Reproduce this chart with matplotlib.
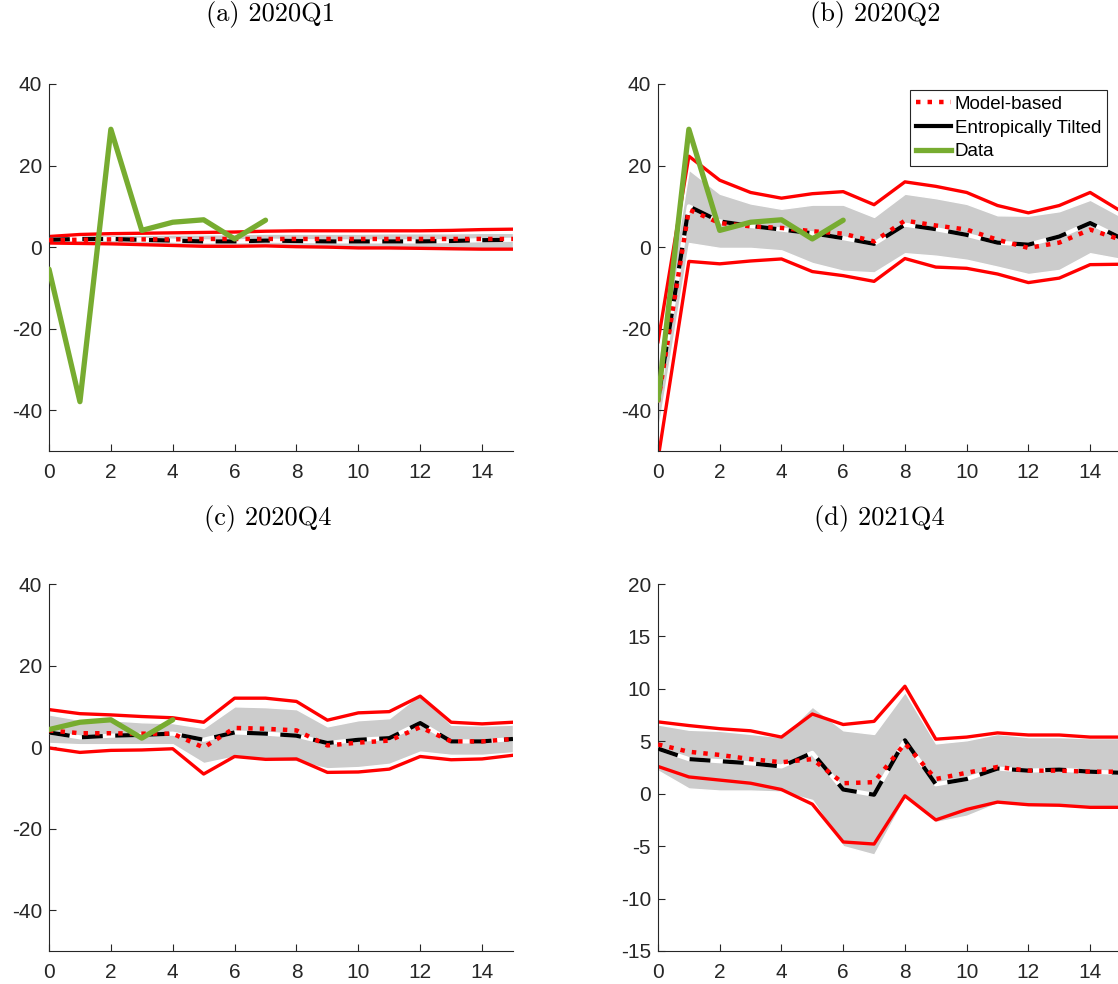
import matplotlib
matplotlib.use('Agg')
import matplotlib.pyplot as plt
from matplotlib.lines import Line2D

plt.rcParams['font.family'] = ['Liberation Sans', 'DejaVu Sans']
plt.rcParams['axes.unicode_minus'] = False

h = list(range(16))

# (a) 2020Q1
a_up = [2.6, 3.1, 3.3, 3.4, 3.5, 3.6, 3.7, 3.9, 4.0, 4.0, 4.0, 4.0, 4.0, 4.1, 4.3, 4.4]
a_lo = [1.0, 0.9, 0.8, 0.6, 0.4, 0.2, 0.2, 0.3, 0.1, 0.0, -0.2, -0.2, -0.3, -0.4, -0.5, -0.5]
a_gup = [2.4, 2.8, 3.0, 3.0, 3.1, 3.1, 3.2, 3.3, 3.3, 3.3, 3.3, 3.4, 3.4, 3.4, 3.5, 3.5]
a_glo = [1.1, 1.0, 0.9, 0.6, 0.3, 0.1, 0.0, 0.0, -0.2, -0.4, -0.5, -0.6, -0.7, -0.8, -0.8, -0.8]
a_model = [1.7, 1.8, 1.9, 1.9, 1.9, 2.0, 2.0, 2.0, 2.0, 2.0, 2.0, 2.0, 2.0, 2.0, 2.0, 2.0]
a_tilt = [1.8, 2.0, 2.0, 1.8, 1.6, 1.4, 1.4, 1.6, 1.5, 1.4, 1.4, 1.4, 1.4, 1.5, 1.7, 1.8]
a_data = [-5.4, -37.9, 28.9, 4.1, 6.1, 6.7, 2.0, 6.6]

# (b) 2020Q2
b_up = [-23.2, 22.3, 16.4, 13.4, 12.0, 13.1, 13.6, 10.4, 16.0, 14.9, 13.4, 10.2, 8.4, 10.2, 13.4, 8.8]
b_lo = [-52.0, -3.5, -4.1, -3.4, -2.9, -6.0, -7.0, -8.4, -2.8, -4.9, -5.2, -6.6, -8.7, -7.6, -4.3, -4.2]
b_gup = [-28.0, 19.0, 13.1, 10.7, 9.4, 10.4, 10.4, 7.4, 13.1, 12.0, 10.6, 7.8, 7.7, 8.8, 11.6, 7.5]
b_glo = [-45.0, 1.0, -0.2, -0.2, -0.8, -3.9, -5.8, -6.2, -1.5, -2.1, -3.1, -4.8, -6.6, -5.6, -1.5, -2.9]
b_model = [-38.0, 9.2, 5.9, 5.1, 4.7, 3.9, 3.3, 1.4, 6.5, 5.3, 4.3, 1.8, -0.2, 1.1, 4.3, 1.8]
b_tilt = [-37.5, 10.0, 6.3, 5.2, 4.3, 3.4, 2.2, 0.8, 5.5, 4.4, 3.0, 1.1, 0.6, 2.6, 5.9, 2.2]
b_data = [-37.5, 28.9, 4.1, 6.1, 6.7, 2.0, 6.6]

# (c) 2020Q4
c_up = [9.2, 8.2, 7.9, 7.5, 7.2, 6.1, 12.0, 12.0, 11.2, 6.6, 8.4, 8.7, 12.5, 6.1, 5.7, 6.1]
c_lo = [-0.2, -1.3, -0.8, -0.7, -0.4, -6.6, -2.3, -3.0, -2.9, -6.2, -6.1, -5.4, -2.3, -3.1, -2.9, -2.0]
c_gup = [8.0, 6.7, 6.6, 6.1, 5.9, 4.7, 10.0, 9.8, 9.3, 5.1, 6.6, 7.1, 13.0, 5.5, 5.3, 5.5]
c_glo = [1.0, 0.7, 0.7, 0.7, 0.7, -3.9, -2.3, -3.3, -3.5, -5.2, -4.9, -4.1, -1.1, -1.9, -1.9, -1.3]
c_model = [4.1, 3.4, 3.4, 3.3, 3.3, -0.1, 4.7, 4.5, 4.1, 0.4, 1.1, 1.6, 4.9, 1.4, 1.4, 2.0]
c_tilt = [3.6, 2.4, 2.8, 3.0, 3.3, 1.8, 3.6, 3.3, 2.8, 1.0, 1.8, 2.2, 5.9, 1.4, 1.4, 2.0]
c_data = [4.3, 6.1, 6.7, 2.2, 6.7]

# (d) 2021Q4
d_up = [6.85, 6.5, 6.2, 6.0, 5.4, 7.6, 6.6, 6.9, 10.25, 5.2, 5.4, 5.8, 5.6, 5.6, 5.4, 5.4]
d_lo = [2.6, 1.6, 1.3, 1.0, 0.4, -1.0, -4.6, -4.8, -0.2, -2.5, -1.5, -0.8, -1.05, -1.1, -1.3, -1.3]
d_gup = [6.6, 6.1, 6.0, 5.7, 5.4, 8.3, 6.05, 5.7, 9.7, 4.8, 5.1, 5.7, 5.4, 5.4, 5.3, 5.3]
d_glo = [2.2, 0.5, 0.3, 0.3, 0.2, -0.6, -5.0, -5.8, -0.4, -2.7, -2.1, -0.9, -1.2, -1.2, -1.3, -1.3]
d_model = [4.7, 4.0, 3.7, 3.3, 3.0, 3.3, 1.0, 1.1, 4.8, 1.4, 2.0, 2.55, 2.2, 2.2, 2.1, 2.1]
d_tilt = [4.3, 3.3, 3.1, 2.9, 2.6, 3.9, 0.4, -0.1, 5.1, 0.9, 1.4, 2.4, 2.2, 2.3, 2.1, 2.0]

titles = ['(a) 2020Q1', '(b) 2020Q2', '(c) 2020Q4', '(d) 2021Q4']
legend_labels = ['Model-based', 'Entropically Tilted', 'Data']

W = 1118
H = 984
fig = plt.figure(figsize=(W / 100, H / 100), dpi=100)

ax_color = (0.15, 0.15, 0.15)
green = (0.467, 0.675, 0.188)


def panel(rect, up, lo, gup, glo, model, tilt, data, ylim, yticks):
    ax = fig.add_axes(rect)
    ax.fill_between(h, glo, gup, facecolor=(0.8, 0.8, 0.8), edgecolor='white', linewidth=1, zorder=1)
    ax.plot(h, up, color='red', lw=2.4, solid_joinstyle='round', zorder=2)
    ax.plot(h, lo, color='red', lw=2.4, solid_joinstyle='round', zorder=2)
    ax.plot(h, tilt, color='white', lw=3, zorder=3)
    ax.plot(h, tilt, color='black', lw=3, dashes=(5, 3), dash_capstyle='butt', zorder=4)
    ax.plot(h, model, color='red', lw=3.2, dashes=(1, 1.6), dash_capstyle='butt', zorder=5)
    if data is not None:
        ax.plot(range(len(data)), data, color=green, lw=3.8,
                solid_joinstyle='round', solid_capstyle='round', zorder=6)
    ax.set_xlim(0, 15)
    ax.set_ylim(ylim)
    ax.set_xticks(range(0, 15, 2))
    ax.set_yticks(yticks)
    ax.spines['top'].set_visible(False)
    ax.spines['right'].set_visible(False)
    for s in ['left', 'bottom']:
        ax.spines[s].set_color(ax_color)
        ax.spines[s].set_linewidth(0.8)
    ax.tick_params(direction='in', length=5, width=0.8, colors=ax_color, labelsize=15)
    ax.tick_params(axis='y', pad=5)
    ax.tick_params(axis='x', pad=9)
    return ax


ax_w = 464 / W
ax_w2 = (1121 - 658) / W
ax_h = 367 / H
top_row = 1 - 451 / H
bot_row = 1 - 951 / H
left1 = 49 / W
left2 = 658 / W

ticks_big = [-40, -20, 0, 20, 40]
panel([left1, top_row, ax_w, ax_h], a_up, a_lo, a_gup, a_glo, a_model, a_tilt, a_data, (-50, 40), ticks_big)
panel([left2, top_row, ax_w2, ax_h], b_up, b_lo, b_gup, b_glo, b_model, b_tilt, b_data, (-50, 40), ticks_big)
panel([left1, bot_row, ax_w, ax_h], c_up, c_lo, c_gup, c_glo, c_model, c_tilt, c_data, (-50, 40), ticks_big)
panel([left2, bot_row, ax_w2, ax_h], d_up, d_lo, d_gup, d_glo, d_model, d_tilt, None,
      (-15, 20), [-15, -10, -5, 0, 5, 10, 15, 20])

handles = [Line2D([], [], color='red', lw=3.2, dashes=(1, 1.6), dash_capstyle='butt'),
           Line2D([], [], color='black', lw=3),
           Line2D([], [], color=green, lw=3.8)]
leg = fig.legend(handles, legend_labels,
                 loc='upper right', bbox_to_anchor=(1107 / W, 1 - 90 / H),
                 fontsize=13.5, handlelength=1.9, handletextpad=0.2,
                 labelspacing=0.36, borderpad=0.3, borderaxespad=0,
                 fancybox=False, framealpha=1, edgecolor=ax_color)
leg.get_frame().set_linewidth(0.8)

title_pos = [(270, 14), (875, 14), (268, 518), (879, 518)]
for t, (x, y) in zip(titles, title_pos):
    fig.text(x / W, 1 - y / H, t, family='cmr10', fontsize=19, ha='center', va='center')

fig.savefig('out.png', dpi=100)
